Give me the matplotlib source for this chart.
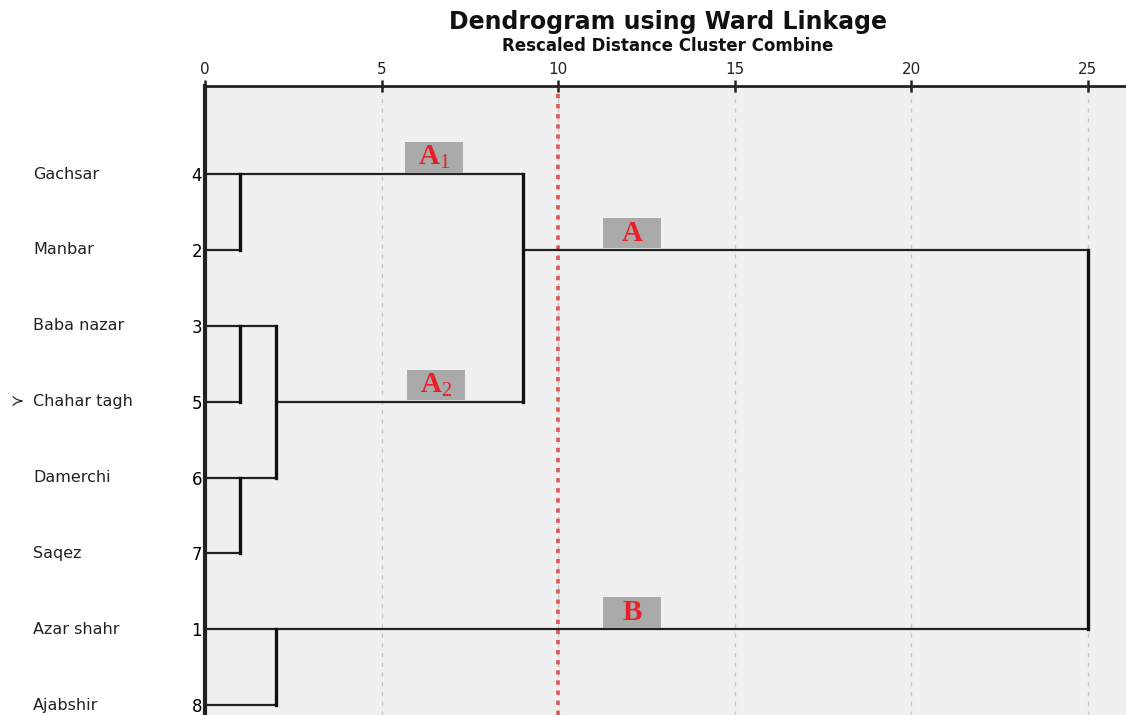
import matplotlib
matplotlib.use("Agg")
import matplotlib.pyplot as plt
import matplotlib.transforms as mtransforms
from matplotlib.patches import Rectangle

plt.rcParams['font.family'] = ['DejaVu Sans']
plt.rcParams['mathtext.fontset'] = 'custom'
plt.rcParams['mathtext.rm'] = 'Liberation Serif'
plt.rcParams['mathtext.bf'] = 'Liberation Serif:bold'

# leaves in display order (top to bottom)
names = ['Gachsar', 'Manbar', 'Baba nazar', 'Chahar tagh', 'Damerchi', 'Saqez', 'Azar shahr', 'Ajabshir']
case_ids = [4, 2, 3, 5, 6, 7, 1, 8]

# merges: (left cluster, right cluster, rescaled distance); leaves are 0..7, new clusters 8..
merges = [
    (0, 1, 1),    # 8  Gachsar + Manbar
    (2, 3, 1),    # 9  Baba nazar + Chahar tagh
    (4, 5, 1),    # 10 Damerchi + Saqez
    (6, 7, 2),    # 11 Azar shahr + Ajabshir
    (9, 10, 2),   # 12
    (8, 12, 9),   # 13 cluster A
    (13, 11, 25), # 14 A + B
]

cluster_labels = ['A$_{\\mathrm{1}}$', 'A', 'A$_{\\mathrm{2}}$', 'B']
cluster_label_x = [6.48, 12.1, 6.55, 12.1]
cluster_label_rows = [0, 1, 3, 6]

cut_height = 10
xticks = [0, 5, 10, 15, 20, 25]

fig = plt.figure(figsize=(11.26, 7.15), dpi=100)
ax = fig.add_axes([0.182, 0.0, 0.818, 0.8797])
ax.set_facecolor('#f0f0f0')

# positions and heights of every node
pos = {i: i for i in range(len(names))}
height = {i: 0 for i in range(len(names))}
parent_h = {}
for k, (a, b, h) in enumerate(merges):
    node = len(names) + k
    pos[node] = (pos[a] + pos[b]) // 2
    height[node] = h
    parent_h[a] = h
    parent_h[b] = h

# grid lines
for t in xticks[1:]:
    ax.axvline(t, color='#c8c8c8', lw=1, ls=(0, (3, 4)), zorder=1)
ax.axvline(cut_height, color='#e05555', lw=2.6, ls=(0, (1.2, 1.6)), zorder=2)

# horizontal branches
for node, ph in parent_h.items():
    ax.plot([height[node], ph], [pos[node], pos[node]], color='#222222', lw=1.6,
            solid_capstyle='butt', zorder=3)
# vertical joins
for k, (a, b, h) in enumerate(merges):
    ax.plot([h, h], [pos[a], pos[b]], color='#111111', lw=2.4,
            solid_capstyle='projecting', zorder=4)

# cluster tags
box_w, box_h = 1.64, 0.40
for lab, x, r in zip(cluster_labels, cluster_label_x, cluster_label_rows):
    ax.add_patch(Rectangle((x - box_w / 2, r - 0.02 - box_h), box_w, box_h,
                           fc='#aaaaaa', ec='none', zorder=5))
    ax.text(x, r - 0.02 - box_h / 2, lab, ha='center', va='center', color='#e8202a',
            fontsize=21, fontweight='bold', family='Liberation Serif', zorder=6)

ax.set_xlim(0, 26.08)
ax.set_ylim(7.13, -1.16)

ax.xaxis.tick_top()
ax.set_xticks(xticks)
ax.set_xticklabels([str(t) for t in xticks], fontsize=11)
ax.tick_params(axis='x', direction='inout', length=9, width=1.8, pad=2, colors='#222222')
ax.set_yticks(range(len(names)))
ax.set_yticklabels([str(c) for c in case_ids], fontsize=12)
ax.tick_params(axis='y', length=0, pad=2)

for s in ['right', 'bottom']:
    ax.spines[s].set_visible(False)
ax.spines['left'].set_linewidth(3)
ax.spines['top'].set_linewidth(2)
ax.spines['left'].set_color('#222222')
ax.spines['top'].set_color('#222222')

# case names
trans = mtransforms.blended_transform_factory(fig.transFigure, ax.transData)
for i, n in enumerate(names):
    ax.text(33 / 1126, i, n, transform=trans, ha='left', va='center', fontsize=11.5,
            color='#222222', clip_on=False)
ax.text(10 / 1126, 3, '\u227b', transform=trans, ha='left', va='center', fontsize=11.5,
        color='#222222', clip_on=False)

fig.text(668 / 1126, 1 - 22 / 715, 'Dendrogram using Ward Linkage', ha='center', va='center',
         fontsize=17, fontweight='bold', color='#111111')
fig.text(668 / 1126, 1 - 46 / 715, 'Rescaled Distance Cluster Combine', ha='center', va='center',
         fontsize=12, fontweight='bold', color='#111111')

fig.savefig('out.png', dpi=100, facecolor='white')
